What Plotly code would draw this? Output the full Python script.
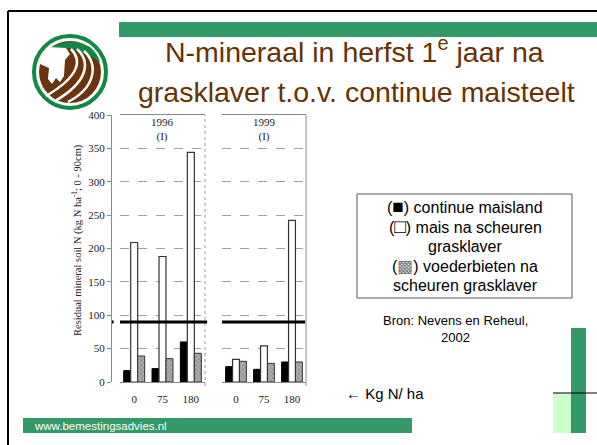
import plotly.graph_objects as go

W, H = 597, 445

# ---------------- data ----------------
categories = ["0", "75", "180"]
y1996_continue = [17, 20, 60]
y1996_grasklaver = [209, 188, 344]
y1996_bieten = [39, 35, 43]
y1999_continue = [23, 19, 30]
y1999_grasklaver = [34, 54, 242]
y1999_bieten = [31, 28, 30]
threshold = 90
panel_titles = ["1996<br>(I)", "1999<br>(I)"]
y_range = [0, 400]
y_dtick = 50

GREEN = "#339966"
LIGHTGREEN = "#CCFFCC"
BROWN = "#663300"
SERIF = "Liberation Serif, Times New Roman, serif"
SANS = "Liberation Sans, Arial, sans-serif"


def px(x):
    return x / W


def py(y):
    return 1 - y / H


def P(x, y):
    return f"{px(x):.5f},{py(y):.5f}"


fig = go.Figure()

series_style = [
    dict(color="black", line=dict(color="black", width=1)),
    dict(color="white", line=dict(color="#333333", width=1.2)),
    dict(color="#9a9a9a", line=dict(color="#333333", width=1),
         pattern=dict(shape="x", fgcolor="#555555", bgcolor="#b0b0b0", size=3, solidity=0.4)),
]

panels = [
    ("x", "y", [y1996_continue, y1996_grasklaver, y1996_bieten]),
    ("x2", "y2", [y1999_continue, y1999_grasklaver, y1999_bieten]),
]
for xa, ya, series in panels:
    for vals, st in zip(series, series_style):
        fig.add_trace(go.Bar(x=categories, y=vals, xaxis=xa, yaxis=ya,
                             marker=st, showlegend=False, hoverinfo="skip"))

ydom = [py(382), py(115)]
xcommon = dict(type="category", categoryorder="array", categoryarray=categories,
               showline=True, mirror=True, linecolor="#888888", linewidth=1,
               ticks="", showgrid=False, zeroline=False, automargin=False,
               tickfont=dict(family=SERIF, size=11, color="#222222"),
               ticklabelstandoff=7)
ycommon = dict(domain=ydom, range=y_range, dtick=y_dtick, showgrid=True, automargin=False,
               gridcolor="#a0a0a0", griddash="dash", gridwidth=1, zeroline=False)

fig.update_layout(
    width=W, height=H, margin=dict(l=0, r=0, t=0, b=0, pad=0), autosize=False,
    paper_bgcolor="white", plot_bgcolor="white",
    barmode="group", bargap=0.26, bargroupgap=0,
    xaxis=dict(domain=[px(120), px(205)], anchor="y", **xcommon),
    xaxis2=dict(domain=[px(222), px(306)], anchor="y2", **xcommon),
    yaxis=dict(anchor="free", position=px(111), showline=True, linecolor="#888888",
               ticks="outside", ticklen=4, tickcolor="#888888",
               tickfont=dict(family=SERIF, size=11, color="#222222"), **ycommon),
    yaxis2=dict(anchor="x2", matches="y", showticklabels=False, ticks="",
                showline=False, **ycommon),
)

shapes = []
# panel right borders
shapes.append(dict(type="line", xref="x domain", yref="paper", x0=1, x1=1,
                   y0=py(386), y1=py(115), line=dict(color="#999999", width=1, dash="dot")))
shapes.append(dict(type="line", xref="x2 domain", yref="paper", x0=1, x1=1,
                   y0=py(386), y1=py(115), line=dict(color="#888888", width=1)))
# threshold lines
shapes.append(dict(type="line", xref="x domain", yref="y", x0=0, x1=1.025,
                   y0=threshold, y1=threshold, line=dict(color="black", width=3)))
shapes.append(dict(type="line", xref="x domain", yref="y", x0=-0.095, x1=-0.075,
                   y0=threshold, y1=threshold, line=dict(color="black", width=3)))
shapes.append(dict(type="line", xref="x2 domain", yref="y2", x0=0, x1=0.99,
                   y0=threshold, y1=threshold, line=dict(color="black", width=3)))

# slide frame
shapes.append(dict(type="line", xref="paper", yref="paper", x0=px(8), x1=1,
                   y0=py(11), y1=py(11), line=dict(color="black", width=2)))
shapes.append(dict(type="line", xref="paper", yref="paper", x0=px(8), x1=px(8),
                   y0=py(11), y1=0, line=dict(color="black", width=2)))
# top green bar
shapes.append(dict(type="rect", xref="paper", yref="paper", x0=px(119), x1=1,
                   y0=py(37), y1=py(22), fillcolor=GREEN, line=dict(width=0)))
# footer green bar
shapes.append(dict(type="rect", xref="paper", yref="paper", x0=px(23), x1=px(412),
                   y0=py(433), y1=py(418), fillcolor=GREEN, line=dict(width=0)))
# bottom right decoration
shapes.append(dict(type="rect", xref="paper", yref="paper", x0=px(553), x1=px(571),
                   y0=py(433), y1=py(393), fillcolor=LIGHTGREEN, line=dict(width=0)))
shapes.append(dict(type="rect", xref="paper", yref="paper", x0=px(571), x1=px(586),
                   y0=py(433), y1=py(328), fillcolor=GREEN, line=dict(width=0)))
shapes.append(dict(type="line", xref="paper", yref="paper", x0=px(553), x1=1,
                   y0=py(393), y1=py(393), line=dict(color="black", width=1)))
# legend box
shapes.append(dict(type="rect", xref="paper", yref="paper", x0=px(357), x1=px(572),
                   y0=py(298), y1=py(194), fillcolor="rgba(0,0,0,0)",
                   line=dict(color="#555555", width=1)))

# logo
cx, cy = 70, 72
shapes.append(dict(type="circle", xref="paper", yref="paper", x0=px(cx - 36), x1=px(cx + 36),
                   y0=py(cy + 36), y1=py(cy - 36), fillcolor="white",
                   line=dict(color="#118844", width=4)))
shapes.append(dict(type="circle", xref="paper", yref="paper", x0=px(cx - 31), x1=px(cx + 31),
                   y0=py(cy + 31), y1=py(cy - 31), fillcolor="#6B3410", line=dict(width=0)))
cap = ("M " + P(50, 48) + " Q " + P(70, 36) + " " + P(90, 47) + " Q " + P(98, 54) + " " + P(100, 62)
       + " Q " + P(85, 52) + " " + P(68, 48) + " Z")
shapes.append(dict(type="path", xref="paper", yref="paper", path=cap,
                   fillcolor="#118844", line=dict(width=0)))
head = ("M " + P(48, 47) + " L " + P(66, 48) + " L " + P(70, 54) + " L " + P(65, 60)
        + " L " + P(64, 76) + " L " + P(60, 82) + " L " + P(56, 78) + " L " + P(52, 84)
        + " L " + P(48, 79) + " L " + P(49, 68) + " L " + P(40, 64) + " L " + P(42, 55) + " Z")
shapes.append(dict(type="path", xref="paper", yref="paper", path=head,
                   fillcolor="white", line=dict(width=0)))
for (a, b, c, d) in [((71, 49), (82, 60), (80, 76), (46, 96)),
                     ((77, 49), (91, 62), (88, 82), (55, 101)),
                     ((84, 51), (99, 65), (95, 88), (68, 102))]:
    pth = "M " + P(*a) + " C " + P(*b) + " " + P(*c) + " " + P(*d)
    shapes.append(dict(type="path", xref="paper", yref="paper", path=pth,
                       line=dict(color="white", width=2.5)))

fig.update_layout(shapes=shapes)

ann = []
# panel titles
for xa, t in zip(["x", "x2"], panel_titles):
    ann.append(dict(xref=f"{xa} domain", yref="paper", x=0.5, y=py(129.5), text=t,
                    showarrow=False, xanchor="center", yanchor="middle",
                    font=dict(family=SERIF, size=11, color="#222222")))
# y title
ann.append(dict(xref="paper", yref="paper", x=px(77), y=py(240), textangle=-90,
                text="Residual mineral soil N (kg N ha<sup>-1</sup>; 0 - 90cm)",
                showarrow=False, xanchor="center", yanchor="middle",
                font=dict(family=SERIF, size=10.5, color="#222222")))
# slide title
ann.append(dict(xref="paper", yref="paper", x=px(354), y=py(50),
                text="N-mineraal in herfst 1<sup>e</sup> jaar na", showarrow=False,
                xanchor="center", yanchor="middle", font=dict(family=SANS, size=28.5, color=BROWN)))
ann.append(dict(xref="paper", yref="paper", x=px(356), y=py(92),
                text="grasklaver t.o.v. continue maisteelt", showarrow=False,
                xanchor="center", yanchor="middle", font=dict(family=SANS, size=28.5, color=BROWN)))
# legend text
SQ = "<span style='font-size:19px'>%s</span>"
leg_lines = [
    (206, "(" + SQ % "■" + ") continue maisland"),
    (226, "(" + SQ % "□" + ") mais na scheuren"),
    (246, "grasklaver"),
    (266, "(<span style='color:#777777;font-size:17px'>▩</span>) voederbieten na"),
    (285, "scheuren grasklaver"),
]
for yy, t in leg_lines:
    ann.append(dict(xref="paper", yref="paper", x=px(465), y=py(yy), text=t, showarrow=False,
                    xanchor="center", yanchor="middle", font=dict(family=SANS, size=16, color="black")))
# source
ann.append(dict(xref="paper", yref="paper", x=px(455), y=py(320), text="Bron: Nevens en Reheul,",
                showarrow=False, xanchor="center", yanchor="middle",
                font=dict(family=SANS, size=13, color="black")))
ann.append(dict(xref="paper", yref="paper", x=px(455), y=py(337), text="2002",
                showarrow=False, xanchor="center", yanchor="middle",
                font=dict(family=SANS, size=13, color="black")))
ann.append(dict(xref="paper", yref="paper", x=px(344), y=py(393), text="← Kg N/ ha",
                showarrow=False, xanchor="left", yanchor="middle",
                font=dict(family=SANS, size=15, color="black")))
ann.append(dict(xref="paper", yref="paper", x=px(32), y=py(425.5), text="www.bemestingsadvies.nl",
                showarrow=False, xanchor="left", yanchor="middle",
                font=dict(family=SANS, size=11.5, color="white")))
fig.update_layout(annotations=ann)

fig.write_html("out.html", config={"displayModeBar": False, "responsive": False},
               post_script="document.body.style.margin='0';")
